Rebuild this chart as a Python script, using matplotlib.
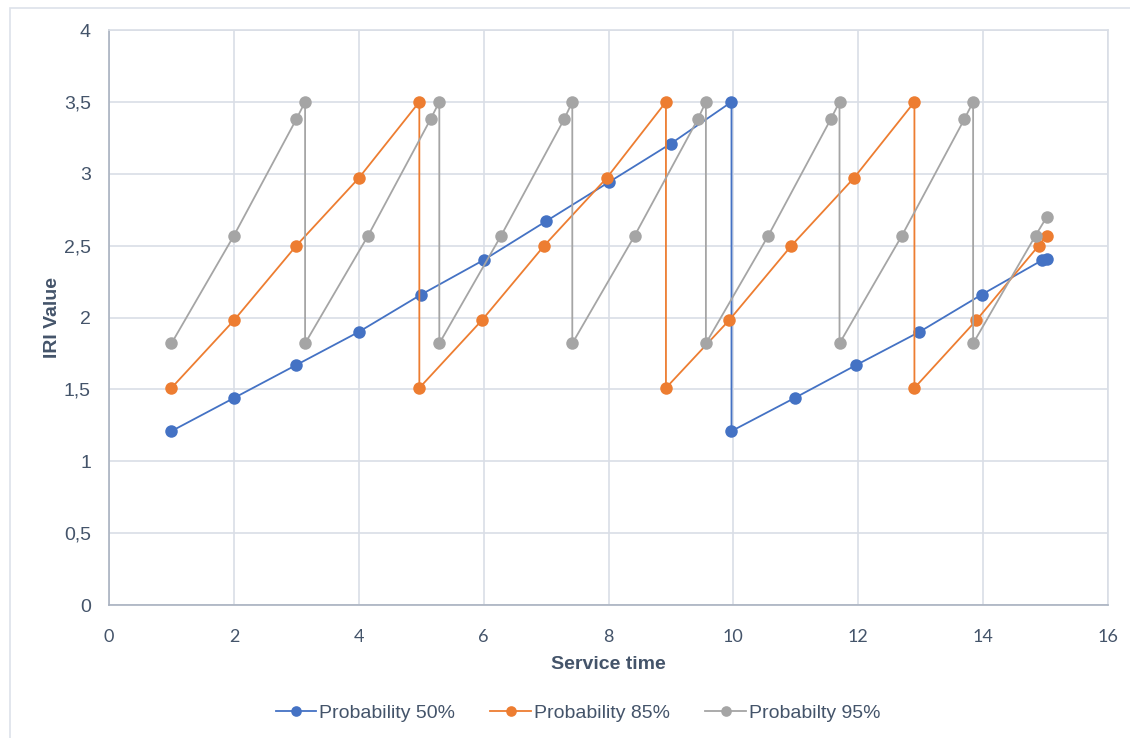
"""
IRI Progression Chart
=====================

IRI value over service time for three reliability levels.
"""

from __future__ import annotations

import matplotlib

matplotlib.use("Agg")

import matplotlib.pyplot as plt
from matplotlib.patches import Rectangle
from matplotlib.ticker import FuncFormatter, MultipleLocator

# =============================================================================
# DATA
# =============================================================================

P50_TIME = [1, 2, 3, 4, 5, 6, 7, 8, 9, 9.97, 9.97,
            10.98, 11.97, 12.98, 13.98, 14.95, 15.02]
P50_IRI = [1.21, 1.44, 1.67, 1.90, 2.16, 2.40, 2.67, 2.94, 3.21, 3.5, 1.21,
           1.44, 1.67, 1.90, 2.16, 2.40, 2.41]

P85_TIME = [1, 2, 3, 4, 4.97, 4.97, 5.97, 6.97, 7.97, 8.92, 8.92,
            9.93, 10.93, 11.93, 12.9, 12.9, 13.89, 14.89, 15.02]
P85_IRI = [1.51, 1.98, 2.5, 2.97, 3.5, 1.51, 1.98, 2.5, 2.97, 3.5, 1.51,
           1.98, 2.5, 2.97, 3.5, 1.51, 1.98, 2.5, 2.57]

P95_TIME = [1, 2, 3, 3.14, 3.14, 4.15, 5.15, 5.29, 5.29, 6.28, 7.29, 7.42,
            7.42, 8.42, 9.43, 9.56, 9.56, 10.56, 11.56, 11.70, 11.70, 12.70,
            13.70, 13.84, 13.84, 14.84, 15.02]
P95_IRI = [1.82, 2.57, 3.38, 3.5, 1.82, 2.57, 3.38, 3.5, 1.82, 2.57, 3.38, 3.5,
           1.82, 2.57, 3.38, 3.5, 1.82, 2.57, 3.38, 3.5, 1.82, 2.57,
           3.38, 3.5, 1.82, 2.57, 2.70]

SERIES_LABELS = ["Probability 50%", "Probability 85%", "Probabilty 95%"]
SERIES_COLORS = ["#4472C4", "#ED7D31", "#A5A5A5"]

# =============================================================================
# STYLE
# =============================================================================

TEXT_COLOR = "#44546A"
GRID_COLOR = "#D9DEE6"
SPINE_COLOR = "#A9B2C0"
FRAME_COLOR = "#DDE2EA"
FONT = ["Liberation Sans", "DejaVu Sans"]
TICK_FONT = ["Lato", "DejaVu Sans"]


def comma_decimal(value: float, _pos: int) -> str:
    """
    Format tick values with a decimal comma.
    """

    return f"{value:g}".replace(".", ",")


def main() -> None:
    """
    Draw the chart and save it.
    """

    figure = plt.figure(figsize=(11.30, 7.38), dpi=100)
    axis = figure.add_axes([0.0965, 0.1802, 0.8840, 0.7791])

    series = [
        (P50_TIME, P50_IRI),
        (P85_TIME, P85_IRI),
        (P95_TIME, P95_IRI),
    ]

    for (time, iri), label, color in zip(series, SERIES_LABELS, SERIES_COLORS):
        axis.plot(
            time,
            iri,
            color=color,
            linewidth=1.3,
            marker="o",
            markersize=9,
            markeredgewidth=0,
            label=label,
        )

    axis.set_xlim(0, 16)
    axis.set_ylim(0, 4)
    axis.xaxis.set_major_locator(MultipleLocator(2))
    axis.yaxis.set_major_locator(MultipleLocator(0.5))
    axis.yaxis.set_major_formatter(FuncFormatter(comma_decimal))

    axis.grid(True, color=GRID_COLOR, linewidth=1.2, zorder=0)
    axis.set_axisbelow(True)

    for side in ("top", "right"):
        axis.spines[side].set_color(GRID_COLOR)
        axis.spines[side].set_linewidth(1.2)
    for side in ("left", "bottom"):
        axis.spines[side].set_color(SPINE_COLOR)
        axis.spines[side].set_linewidth(1.2)

    axis.tick_params(length=0, colors=TEXT_COLOR)
    axis.tick_params(axis="y", pad=13)
    axis.tick_params(axis="x", pad=17)
    for tick in axis.get_yticklabels():
        tick.set_fontfamily(FONT)
        tick.set_fontsize(14)
    for tick in axis.get_xticklabels():
        tick.set_fontfamily(TICK_FONT)
        tick.set_fontsize(13)

    axis.set_xlabel(
        "Service time",
        fontsize=14,
        fontweight="bold",
        color=TEXT_COLOR,
        family=FONT,
        labelpad=8,
    )
    axis.set_ylabel(
        "IRI Value",
        fontsize=14,
        fontweight="bold",
        color=TEXT_COLOR,
        family=FONT,
        labelpad=2,
    )

    figure.legend(
        loc="center",
        bbox_to_anchor=(0.5115, 0.034),
        ncol=3,
        frameon=False,
        handlelength=2.1,
        handletextpad=0.15,
        columnspacing=1.8,
        markerscale=0.85,
        prop={"family": FONT, "size": 14},
        labelcolor=TEXT_COLOR,
    )

    # Thin border around the chart area
    figure.patches.append(
        Rectangle(
            (10 / 1130, -0.05),
            1.1,
            1.05 - 8 / 738,
            transform=figure.transFigure,
            fill=False,
            edgecolor=FRAME_COLOR,
            linewidth=1.2,
        )
    )

    figure.savefig("out.png", dpi=100)
    plt.close(figure)


if __name__ == "__main__":
    main()
